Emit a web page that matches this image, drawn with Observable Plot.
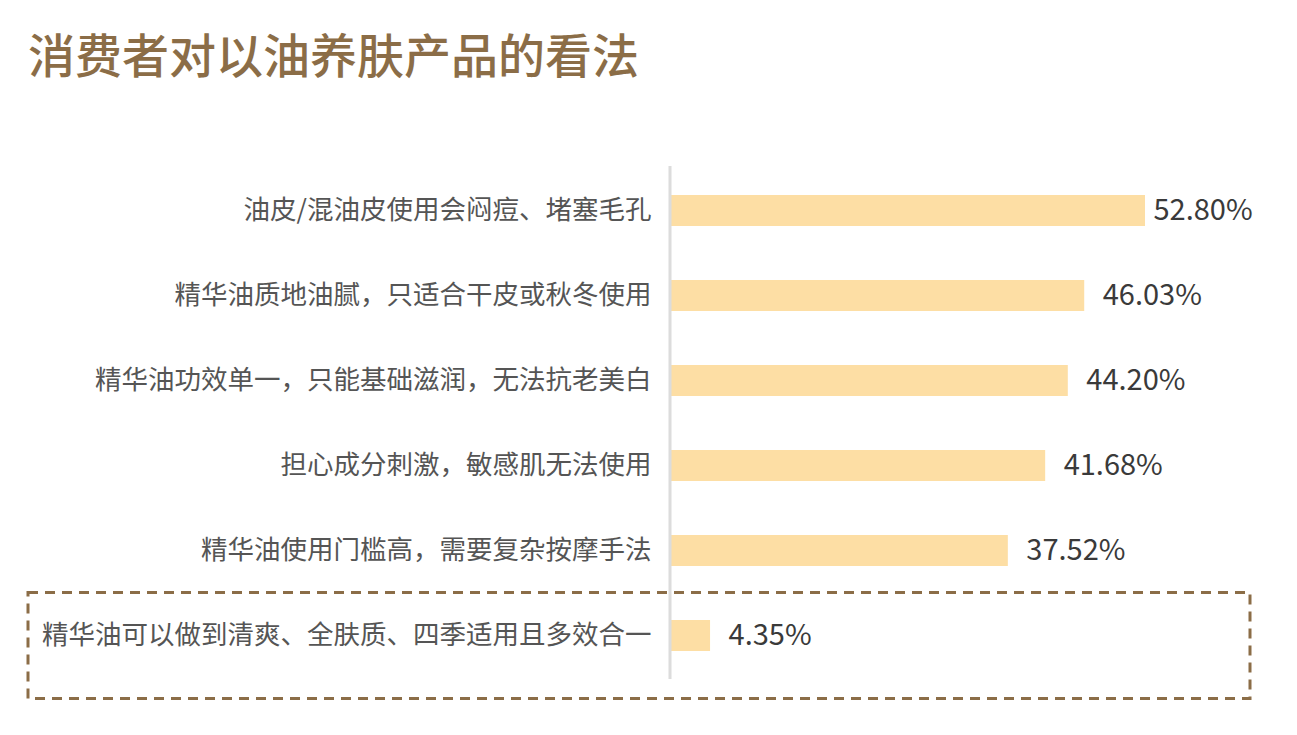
<!DOCTYPE html>
<html>
<head>
<meta charset="utf-8">
<script src="https://cdn.jsdelivr.net/npm/d3@7"></script>
<script src="https://cdn.jsdelivr.net/npm/@observablehq/plot@0.6"></script>
<style>
  html, body { margin: 0; padding: 0; background: #fff; }
  body { width: 1297px; height: 735px; position: relative; overflow: hidden; font-family: "Noto Sans CJK SC", sans-serif; }
  #title { position: absolute; left: 28px; top: 29px; font-size: 47px; line-height: 47px; font-weight: 500; color: #8B6D47; white-space: nowrap; }
  #chart { position: absolute; left: 0; top: 110px; }
</style>
</head>
<body>
<div id="title">消费者对以油养肤产品的看法</div>
<div id="chart"></div>
<script>
const categories = [
  "油皮/混油皮使用会闷痘、堵塞毛孔",
  "精华油质地油腻，只适合干皮或秋冬使用",
  "精华油功效单一，只能基础滋润，无法抗老美白",
  "担心成分刺激，敏感肌无法使用",
  "精华油使用门槛高，需要复杂按摩手法",
  "精华油可以做到清爽、全肤质、四季适用且多效合一"
];
const values = [52.80, 46.03, 44.20, 41.68, 37.52, 4.35];
const highlighted = "精华油可以做到清爽、全肤质、四季适用且多效合一";

const data = categories.map((c, i) => ({category: c, value: values[i]}));
const first = data.slice(0, 1);
const rest = data.slice(1);

const plot = Plot.plot({
  width: 1297,
  height: 625,
  marginTop: 56,
  marginBottom: 56,
  marginLeft: 671,
  marginRight: 152,
  style: {fontFamily: "'Noto Sans CJK SC', sans-serif", background: "transparent", overflow: "visible"},
  x: {domain: [0, 52.8], axis: null},
  y: {domain: categories, paddingInner: 0.64, paddingOuter: 0.32, axis: null},
  marks: [
    Plot.axisY({tickSize: 0, tickPadding: 20, fontSize: 26.5, fill: "#555", label: null}),
    Plot.barX(data, {x: "value", y: "category", fill: "#FDDEA4"}),
    Plot.ruleX([0], {stroke: "#dcdcdc", strokeWidth: 3, dx: -1.5}),
    Plot.text(first, {x: "value", y: "category", text: d => d.value.toFixed(2) + "%", textAnchor: "start", dx: 8, fontSize: 29, fill: "#3a3a3a"}),
    Plot.text(rest, {x: "value", y: "category", text: d => d.value.toFixed(2) + "%", textAnchor: "start", dx: 18, fontSize: 29, fill: "#3a3a3a"})
  ]
});

document.getElementById("chart").appendChild(plot);

// dashed highlight box around the last row, positioned from the y scale
const y = plot.scale("y");
const yTop = y.apply(highlighted);
const bw = y.bandwidth;
const cy = yTop + bw / 2;
d3.select(plot).append("rect")
  .attr("x", 28)
  .attr("y", cy - 43)
  .attr("width", 1222)
  .attr("height", 106)
  .attr("fill", "none")
  .attr("stroke", "#8B6D47")
  .attr("stroke-width", 3)
  .attr("stroke-dasharray", "10,7");
</script>
</body>
</html>
